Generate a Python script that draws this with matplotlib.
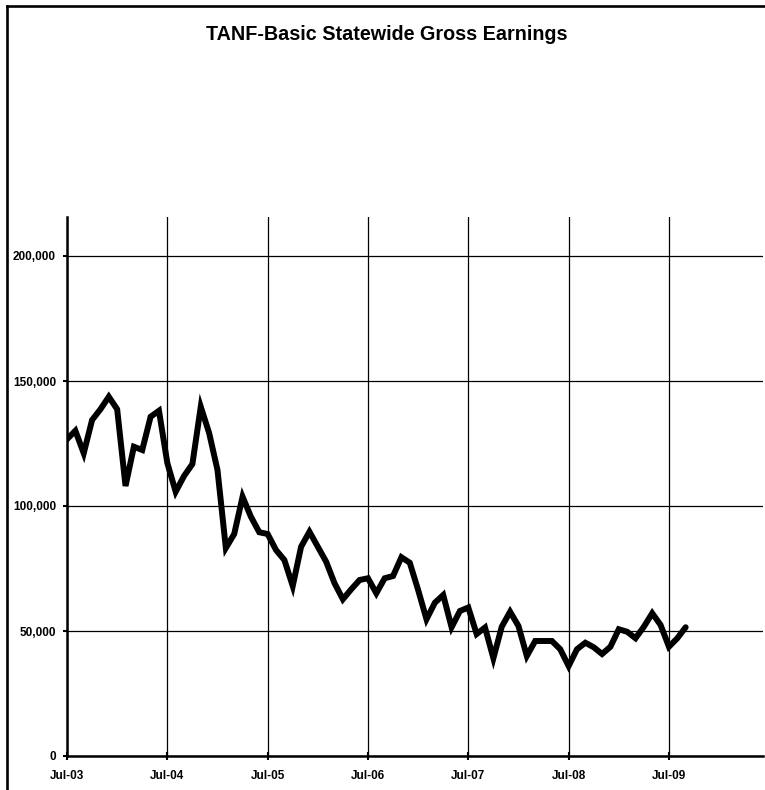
import matplotlib
matplotlib.use("Agg")
import matplotlib.pyplot as plt
from matplotlib.lines import Line2D

plt.rcParams['font.family'] = ['Liberation Sans', 'DejaVu Sans']

# Monthly values, Jul-03 .. Sep-09
earnings = [
    126700, 130100, 121100, 134400, 138700, 143700, 138700, 108000, 123700, 122400,
    135700, 138100, 117200, 105700, 112000, 116800, 139700, 129200, 114400, 83200,
    88800, 103700, 95700, 89500, 88800, 82400, 78400, 68000, 83700, 89700,
    83700, 77700, 69100, 62700, 66700, 70400, 71100, 65100, 71100, 72000,
    79500, 77300, 66400, 54700, 61300, 64400, 51500, 58000, 59400, 48800,
    51400, 39100, 51700, 57700, 52000, 40000, 46000, 46000, 46000, 42700,
    36000, 42700, 45300, 43500, 40800, 43700, 50700, 49700, 47100, 51700,
    57100, 52400, 43700, 47100, 51500,
]
months = list(range(len(earnings)))
x_tick_pos = [0, 12, 24, 36, 48, 60, 72]
x_tick_labels = ['Jul-03', 'Jul-04', 'Jul-05', 'Jul-06', 'Jul-07', 'Jul-08', 'Jul-09']
y_ticks = [0, 50000, 100000, 150000, 200000]
y_tick_labels = ['0', '50,000', '100,000', '150,000', '200,000']
title = 'TANF-Basic Statewide Gross Earnings'

W, H = 765, 790
fig = plt.figure(figsize=(W / 100, H / 100), dpi=100)
fig.patch.set_facecolor('white')

# Border (cropped on right and bottom)
fig.add_artist(Line2D([7.3 / W, 7.3 / W], [0, 1 - 6 / H], color='black', lw=1.9,
                      transform=fig.transFigure, solid_capstyle='projecting'))
fig.add_artist(Line2D([7.3 / W, 1.0], [1 - 6 / H, 1 - 6 / H], color='black', lw=1.9,
                      transform=fig.transFigure, solid_capstyle='projecting'))

ax = fig.add_axes([67 / W, (H - 756) / H, (763 - 67) / W, (756 - 217) / H])
ax.set_xlim(0, 83.25)
ax.set_ylim(0, 215600)

ax.plot(months, earnings, color='black', lw=4.3, solid_joinstyle='miter',
        solid_capstyle='round', zorder=3)

ax.set_xticks(x_tick_pos)
ax.set_xticklabels(x_tick_labels, fontsize=8.5, fontweight='bold')
ax.set_yticks(y_ticks)
ax.set_yticklabels(y_tick_labels, fontsize=8.5, fontweight='bold')

ax.grid(True, color='black', lw=0.9)
ax.set_axisbelow(True)

for s in ['top', 'right']:
    ax.spines[s].set_visible(False)
for s in ['left', 'bottom']:
    ax.spines[s].set_linewidth(1.8)
    ax.spines[s].set_zorder(4)

ax.tick_params(axis='y', direction='out', length=3, width=1.5, pad=5)
ax.tick_params(axis='x', direction='inout', length=6, width=1.5, pad=7)

fig.text(387 / W, 1 - 35 / H, title, ha='center', va='center',
         fontsize=14.2, fontweight='bold')

fig.savefig('out.png', dpi=100)
